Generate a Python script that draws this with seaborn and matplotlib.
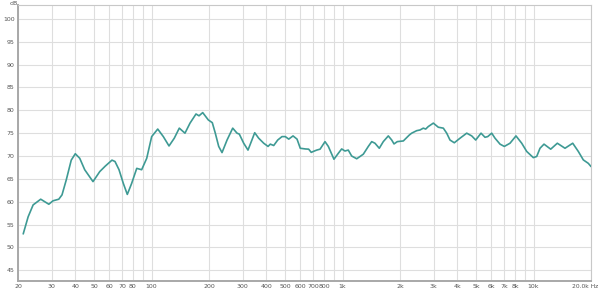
import numpy as np
import pandas as pd
import matplotlib
matplotlib.use("Agg")
import matplotlib.pyplot as plt
import seaborn as sns

freq_hz = [21.3, 22.6, 24.0, 26.3, 29.0, 30.5, 32.7, 34.0, 35.8, 38.0, 39.9, 42.1, 44.7,
           49.4, 53.6, 57.3, 62.1, 64.4, 67.6, 71.2, 74.7, 78.7, 83.7, 88.8, 94.4, 100.2,
           107.8, 115.3, 123.5, 131.6, 139.8, 149.7, 159.1, 171.0, 177.3, 185.4, 198.3,
           208.1, 215.8, 224.8, 234, 248.6, 266.2, 280.4, 288.2, 303.9, 320, 333, 347, 364,
           386.8, 407.5, 418.8, 436.4, 457.9, 482.2, 501.8, 523, 550.8, 578, 601, 638.6,
           665, 686, 703, 733, 763, 810, 843, 902, 951, 990, 1030, 1072, 1117, 1187, 1285,
           1365, 1422, 1479, 1558, 1635, 1737, 1810, 1861, 1936, 2082, 2238, 2302, 2446,
           2546, 2649, 2726, 2813, 2989, 3174, 3372, 3512, 3654, 3849, 4124, 4470, 4748,
           4982, 5312, 5572, 5758, 6042, 6288, 6679, 7034, 7534, 8096, 8675, 9214, 9978,
           10394, 10816, 11350, 12304, 13326, 14618, 16044, 17164, 18230, 19358, 20000]
level_db = [52.96, 56.7, 59.3, 60.55, 59.45, 60.2, 60.55, 61.5, 64.8, 69.1, 70.5, 69.5, 67.0,
            64.4, 66.6, 67.8, 69.1, 68.8, 67.0, 64.0, 61.6, 64.0, 67.3, 67.0, 69.5, 74.25,
            75.9, 74.25, 72.2, 73.9, 76.1, 75.0, 77.2, 79.2, 78.8, 79.5, 77.9,
            77.3, 75.0, 72.1, 70.75, 73.5, 76.1, 75.0, 74.8, 72.8, 71.3, 73.15, 75.1, 73.9,
            72.8, 72.1, 72.6, 72.3, 73.5, 74.25, 74.25, 73.7, 74.4, 73.7, 71.7, 71.55,
            71.5, 70.8, 71.0, 71.3, 71.5, 73.15, 72.1, 69.3, 70.6, 71.55, 71.1, 71.3, 70.0, 69.4, 70.4,
            72.1, 73.15, 72.8, 71.7, 73.15, 74.4, 73.5, 72.65, 73.15, 73.3, 74.6, 75.0, 75.55,
            75.7, 76.1, 75.9, 76.45, 77.2, 76.3, 76.1, 75.0, 73.5, 72.9, 73.9, 75.0, 74.4,
            73.5, 75.0, 74.1, 74.25, 75.0, 73.9, 72.6, 72.1, 72.8, 74.4, 72.8, 71.0, 69.65,
            69.9, 71.7, 72.6, 71.5, 72.8, 71.7, 72.8, 71.0, 69.15, 68.4, 67.7]

x_ticks = [20, 30, 40, 50, 60, 70, 80, 100, 200, 300, 400, 500, 600, 700, 800, 1000,
           2000, 3000, 4000, 5000, 6000, 7000, 8000, 10000]
x_tick_labels = ["20", "30", "40", "50", "60", "70", "80", "100", "200", "300", "400", "500",
                 "600", "700", "800", "1k", "2k", "3k", "4k", "5k", "6k", "7k", "8k", "10k"]
x_grid = [20, 30, 40, 50, 60, 70, 80, 90, 100, 200, 300, 400, 500, 600, 700, 800, 900, 1000,
          2000, 3000, 4000, 5000, 6000, 7000, 8000, 9000, 10000, 20000]
y_ticks = [45, 50, 55, 60, 65, 70, 75, 80, 85, 90, 95, 100]

df = pd.DataFrame({"freq": freq_hz, "db": level_db})

sns.set_style("white")
fig = plt.figure(figsize=(6.0, 2.91), dpi=100)
ax = fig.add_axes([18/600, 1-281/291, (591-18)/600, (281-5)/291])

ax.set_xscale("log")
ax.set_xlim(20, 20000)
ax.set_ylim(42.65, 103.05)

for g in x_grid:
    ax.axvline(g, color="#dedede", lw=0.8, zorder=0)
for t in y_ticks:
    ax.axhline(t, color="#dedede", lw=0.8, zorder=0)

sns.lineplot(data=df, x="freq", y="db", ax=ax, color="#3e9a94", lw=1.2, zorder=3)

ax.set_xticks(x_ticks)
ax.set_xticklabels(x_tick_labels)
ax.xaxis.set_minor_locator(matplotlib.ticker.NullLocator())
ax.set_yticks(y_ticks)
ax.set_yticklabels([str(v) for v in y_ticks])
ax.tick_params(axis="both", length=0, labelsize=4.5, colors="#555555", pad=2.5)
ax.set_xlabel("")
ax.set_ylabel("")

for side in ["top", "right"]:
    ax.spines[side].set_color("#c8c8c8")
    ax.spines[side].set_linewidth(0.8)
for side in ["left", "bottom"]:
    ax.spines[side].set_color("#a8a8a8")
    ax.spines[side].set_linewidth(1.4)

fig.text(10/600, 1-3.5/291, "dB", fontsize=4.5, color="#555555", ha="left", va="center")
fig.text(598/600, 1-286.5/291, "20.0k Hz", fontsize=4.3, color="#555555", ha="right", va="center")

fig.savefig("out.png", dpi=100, facecolor="white")
